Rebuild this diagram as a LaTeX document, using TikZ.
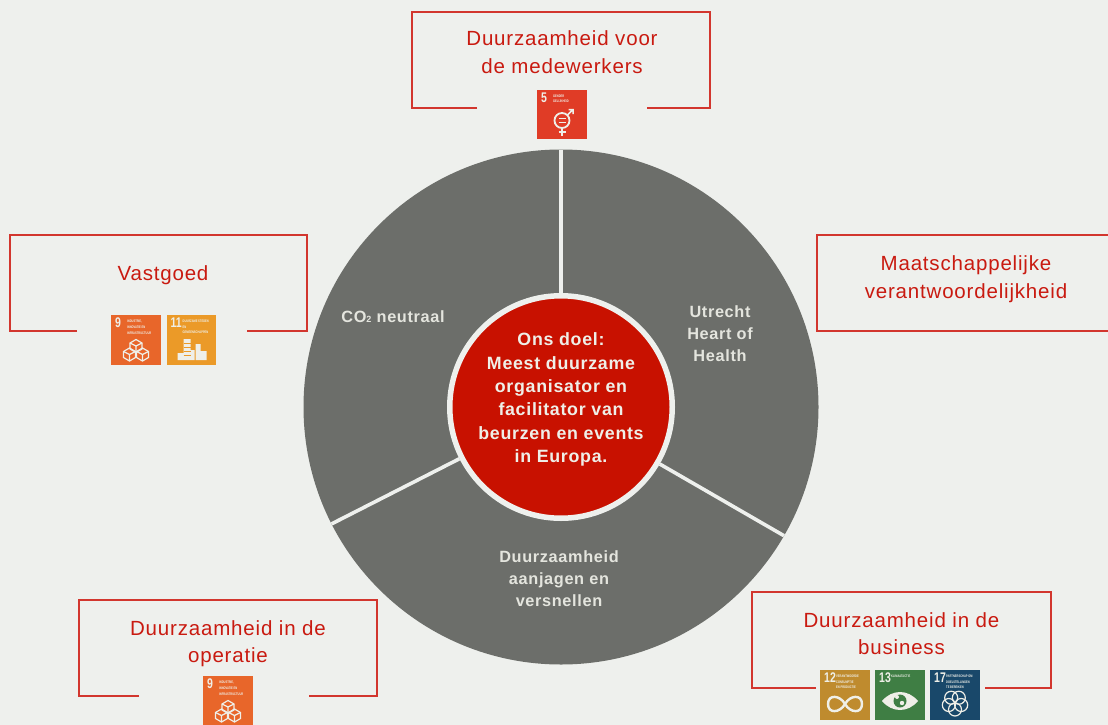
\documentclass[tikz,border=0pt]{standalone}
\usepackage{fontspec}
\setmainfont{Liberation Sans}
\newfontfamily\redfont[LetterSpace=4]{Liberation Sans}
\newfontfamily\whitefont[LetterSpace=4]{Liberation Sans}
\definecolor{bgc}{HTML}{EEF0ED}
\definecolor{discc}{HTML}{6C6E6A}
\definecolor{hubc}{HTML}{C81100}
\definecolor{titlec}{HTML}{C91A10}
\definecolor{framec}{HTML}{D2362E}
\definecolor{palec}{HTML}{EFEFE8}
\definecolor{sdgv}{HTML}{E03C26}
\definecolor{sdgix}{HTML}{E8662A}
\definecolor{sdgxi}{HTML}{EB9A28}
\definecolor{sdgxii}{HTML}{BF8B2E}
\definecolor{sdgxiii}{HTML}{3F7E44}
\definecolor{sdgxvii}{HTML}{19486A}
\tikzset{
  frameline/.style={draw=framec,line width=1.05pt},
  boxtitle/.style={font=\redfont\fontsize{20.5}{27.5}\selectfont,text=titlec,align=center,inner sep=0pt},
  segtitle/.style={font=\whitefont\bfseries\fontsize{16.3}{22}\selectfont,text=palec!92!discc,align=center,inner sep=0pt},
  hubtitle/.style={font=\whitefont\bfseries\fontsize{17.8}{23.3}\selectfont,text=palec,align=center,inner sep=0pt},
  sdgbox/.style={minimum size=49.5pt,inner sep=0pt,outer sep=0pt,fill=#1},
  sdgnum/.style={font=\bfseries\fontsize{14}{14}\selectfont,text=palec,inner sep=0pt,anchor=north west},
  sdgtxt/.style={font=\bfseries\fontsize{3.6}{4.6}\selectfont,text=palec,inner sep=0pt,anchor=north west,align=left},
  glyph/.style={draw=palec,line width=1.2pt},
  divider/.style={draw=bgc,line width=3.6pt}
}
\newcommand{\hexcube}[2]{%
  \draw[glyph] (#1+6,#2-3)--(#1,#2-6.5)--(#1-6,#2-3)--(#1-6,#2+3)--(#1,#2+6.5)--(#1+6,#2+3)--cycle;
  \draw[glyph] (#1-6,#2-3)--(#1,#2)--(#1+6,#2-3) (#1,#2)--(#1,#2+6.5);}
\newcommand{\sdgicon}[6]{% name, colour, x, y, number, text
  \node[sdgbox=#2] (#1) at (#3,#4) {};
  \node[sdgnum] (#1num) at (#3-21,#4-22) {\scalebox{0.75}[1]{#5}};
  \node[sdgtxt] (#1txt) at (#3-9,#4-20) {\scalebox{0.72}[1]{\shortstack[l]{#6}}};}
\newcommand{\cubes}[2]{\begin{scope}[shift={(#1,#2)}]\hexcube{0}{6}\hexcube{-6.5}{14.5}\hexcube{6.5}{14.5}\end{scope}}
\begin{document}
\begin{tikzpicture}[x=1pt,y=-1pt]
\useasboundingbox[fill=bgc] (0,0) rectangle (1108,725);

% wheel
\node[circle,fill=discc,minimum size=515pt,inner sep=0pt,outer sep=0pt] (disc) at (561,407) {};
\node[circle,minimum size=228pt,inner sep=0pt,outer sep=0pt] (hubedge) at (561,407) {};
\draw[divider] (hubedge.90) -- (disc.90);
\draw[divider] (hubedge.330.5) -- (disc.330.5);
\draw[divider] (hubedge.207.6) -- (disc.207.6);
\node[circle,fill=hubc,draw=bgc,line width=5.5pt,minimum size=222.5pt,inner sep=0pt,outer sep=0pt] (hub) at (561,407) {};
\node[hubtitle] (hubtext) at (561,399.5) {Ons doel:\\Meest duurzame\\organisator en\\facilitator van\\beurzen en events\\in Europa.};
\node[segtitle] (segco) at (393,317) {CO{\fontsize{9}{9}\selectfont 2} neutraal};
\node[segtitle] (segheart) at (720,334) {Utrecht\\Heart of\\Health};
\node[segtitle] (segdrive) at (559,579) {Duurzaamheid\\aanjagen en\\versnellen};

% frames
\draw[frameline] (477,108) -- (412,108) -- (412,12) -- (710,12) -- (710,108) -- (647,108);
\draw[frameline] (77,331) -- (10,331) -- (10,235) -- (307,235) -- (307,331) -- (247,331);
\draw[frameline] (1110,235) -- (817,235) -- (817,331) -- (1110,331);
\draw[frameline] (139,696) -- (79,696) -- (79,600) -- (377,600) -- (377,696) -- (309,696);
\draw[frameline] (816,688) -- (752,688) -- (752,592) -- (1051,592) -- (1051,688) -- (985,688);

% frame titles
\node[boxtitle] (titletop) at (562,52) {Duurzaamheid voor\\de medewerkers};
\node[boxtitle] (titlevast) at (163,275) {Vastgoed};
\node[boxtitle] (titlesoc) at (966,279) {Maatschappelijke\\verantwoordelijkheid};
\node[boxtitle] (titleop) at (228,643.5) {Duurzaamheid in de\\operatie};
\node[boxtitle] (titlebiz) at (901.5,633.5) {Duurzaamheid in de\\business};

% SDG icons
\sdgicon{gfive}{sdgv}{562}{114.5}{5}{GENDER\\GELIJKHEID}
\begin{scope}[shift={(562,114.5)}]
  \draw[glyph,line width=1.8pt] (0,6) circle (7.5);
  \draw[glyph,line width=1.5pt] (-3.5,4.2) -- (3.5,4.2) (-3.5,7.8) -- (3.5,7.8);
  \draw[glyph,line width=1.5pt] (5.5,0.5) -- (11,-5) (6.5,-5) -- (11,-5) -- (11,-0.5);
  \draw[glyph,line width=1.8pt] (0,13.5) -- (0,21) (-3.5,17.5) -- (3.5,17.5);
\end{scope}

\sdgicon{gninea}{sdgix}{136}{340}{9}{INDUSTRIE,\\INNOVATIE EN\\INFRASTRUCTUUR}
\cubes{136}{340}

\sdgicon{geleven}{sdgxi}{191.5}{340}{11}{DUURZAME STEDEN\\EN\\GEMEENSCHAPPEN}
\begin{scope}[shift={(191.5,340)}]
  \fill[palec] (-14,13) rectangle (-7,20) (-8,-1) rectangle (-1,20) (-1,10) rectangle (3,20) (4,4) rectangle (9,20) (9,11) rectangle (15,20);
  \draw[sdgxi,line width=.6pt] (-8,3) -- (-1,3) (-8,7) -- (-1,7) (-8,11) -- (-1,11) (-8,15) -- (-1,15);
\end{scope}

\sdgicon{gnineb}{sdgix}{228}{701}{9}{INDUSTRIE,\\INNOVATIE EN\\INFRASTRUCTUUR}
\cubes{228}{701}

\sdgicon{gtwelve}{sdgxii}{845}{695}{12}{VERANTWOORDE\\CONSUMPTIE\\EN PRODUCTIE}
\begin{scope}[shift={(845,695)}]
  \draw[glyph,line width=2.4pt] (0,9) .. controls (-5,0) and (-17,-1) .. (-17,9) .. controls (-17,19) and (-5,18) .. (0,9) .. controls (5,0) and (17,-1) .. (17,9) .. controls (17,19) and (5,18) .. (0,9) -- cycle;
\end{scope}

\sdgicon{gthirteen}{sdgxiii}{900}{695}{13}{KLIMAATACTIE}
\begin{scope}[shift={(900,695)}]
  \fill[palec] (-18,6) .. controls (-8,-6) and (8,-6) .. (18,6) .. controls (8,18) and (-8,18) .. (-18,6) -- cycle;
  \fill[sdgxiii] (0,6) circle (6.5);
  \fill[palec] (-3,2) circle (2) (2,8) circle (2.2);
\end{scope}

\sdgicon{gseventeen}{sdgxvii}{955}{695}{17}{PARTNERSCHAP OM\\DOELSTELLINGEN\\TE BEREIKEN}
\begin{scope}[shift={(955,695)}]
  \foreach \a in {90,162,234,306,18} \draw[glyph] (\a:6.5)++(0,8) circle (6.5);
\end{scope}
\end{tikzpicture}
\end{document}
